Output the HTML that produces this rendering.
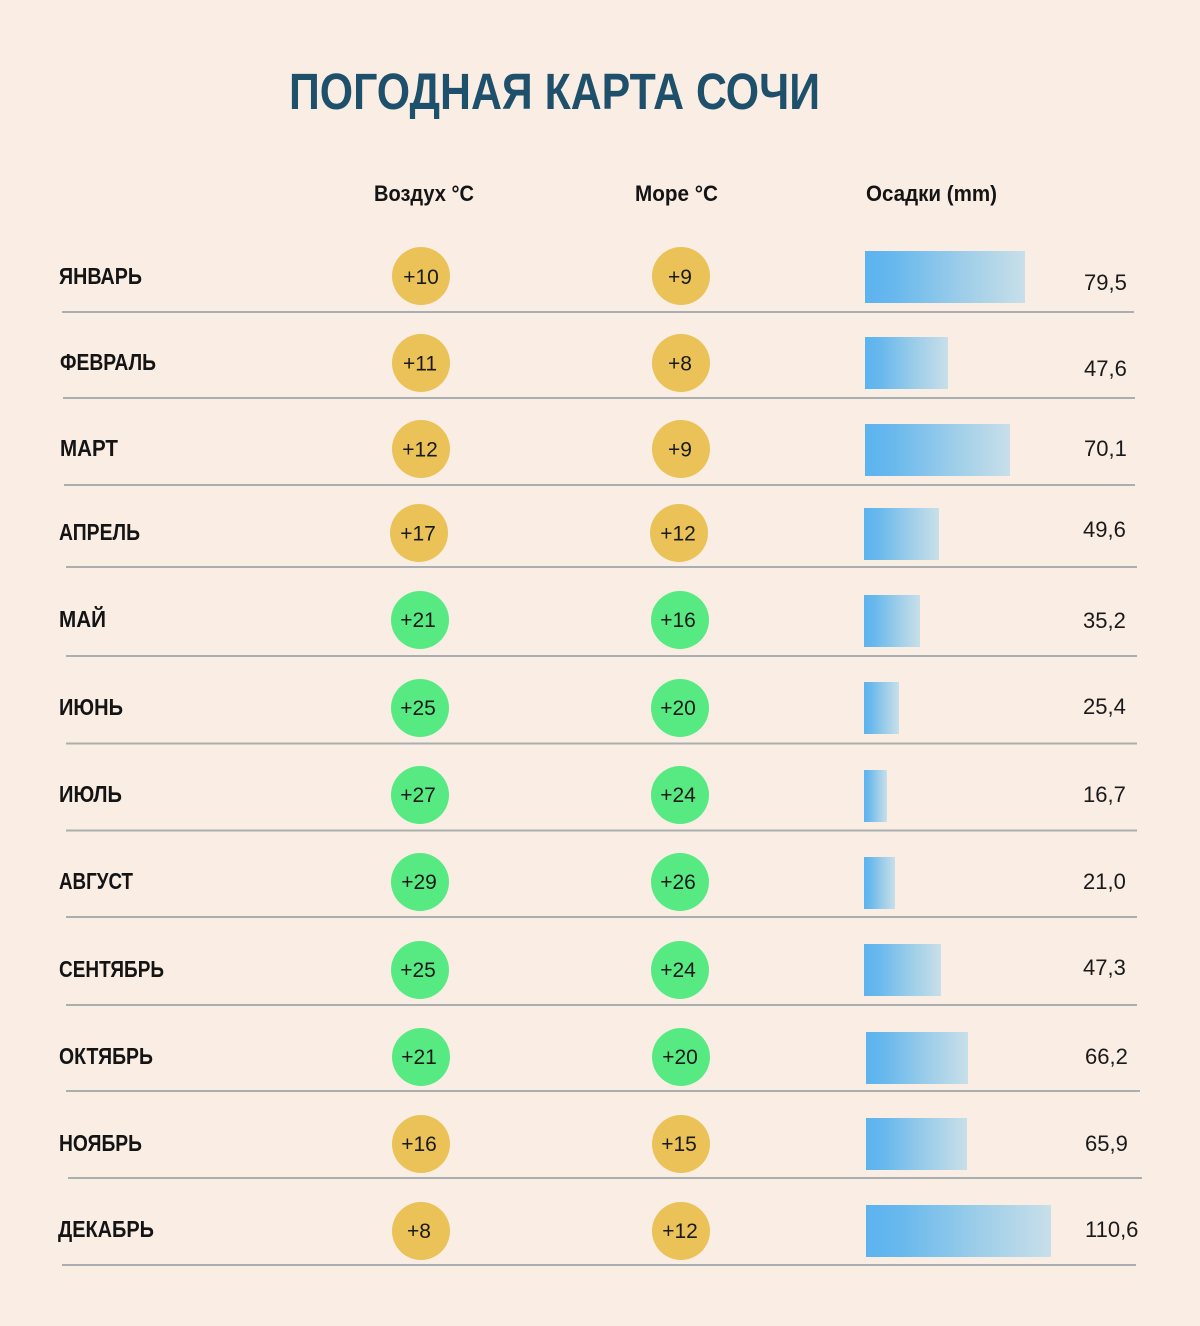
<!DOCTYPE html>
<html>
<head>
<meta charset="utf-8">
<style>
  html, body { margin:0; padding:0; background:#faede4; }
  svg { display:block; }
  .t { font-family:"Liberation Sans", "Noto Sans CJK SC", sans-serif; }
  .title { font-weight:bold; font-size:51px; fill:#1e4f6b; }
  .hdr { font-weight:bold; font-size:22px; fill:#141414; }
  .mon { font-weight:bold; font-size:23px; fill:#141414; }
  .cv { font-size:21px; fill:#1a1a1a; }
  .val { font-size:22px; fill:#1a1a1a; }
</style>
</head>
<body>
<svg width="1200" height="1326" viewBox="0 0 1200 1326" xmlns="http://www.w3.org/2000/svg">
  <defs>
    <linearGradient id="bg" x1="0" y1="0" x2="1" y2="0">
      <stop offset="0" stop-color="#5cb3ef"/>
      <stop offset="0.18" stop-color="#67b8ed"/>
      <stop offset="0.6" stop-color="#9ccde9"/>
      <stop offset="1" stop-color="#c8dfe9"/>
    </linearGradient>
  </defs>
  <rect x="0" y="0" width="1200" height="1326" fill="#faede4"/>

  <text class="t title" x="289" y="109" textLength="531" lengthAdjust="spacingAndGlyphs">ПОГОДНАЯ КАРТА СОЧИ</text>

  <text class="t hdr" x="374" y="201" textLength="100" lengthAdjust="spacingAndGlyphs">Воздух °C</text>
  <text class="t hdr" x="635" y="201" textLength="83" lengthAdjust="spacingAndGlyphs">Море °C</text>
  <text class="t hdr" x="866" y="201" textLength="131" lengthAdjust="spacingAndGlyphs">Осадки (mm)</text>

  <g stroke="#a9aeb1" stroke-width="2">
    <line x1="62" y1="312" x2="1134" y2="312"/>
    <line x1="63" y1="398" x2="1135" y2="398"/>
    <line x1="64" y1="485" x2="1135" y2="485"/>
    <line x1="66" y1="567" x2="1137" y2="567"/>
    <line x1="66" y1="656" x2="1137" y2="656"/>
    <line x1="66" y1="743.5" x2="1137" y2="743.5"/>
    <line x1="66" y1="830.5" x2="1137" y2="830.5"/>
    <line x1="66" y1="917" x2="1137" y2="917"/>
    <line x1="66" y1="1005" x2="1137" y2="1005"/>
    <line x1="66" y1="1091" x2="1140" y2="1091"/>
    <line x1="68" y1="1178" x2="1142" y2="1178"/>
    <line x1="62" y1="1265" x2="1136" y2="1265"/>
  </g>

  <!-- Month labels -->
  <text class="t mon" x="59" y="284" textLength="83" lengthAdjust="spacingAndGlyphs">ЯНВАРЬ</text>
  <text class="t mon" x="60" y="370" textLength="96" lengthAdjust="spacingAndGlyphs">ФЕВРАЛЬ</text>
  <text class="t mon" x="60" y="456" textLength="58" lengthAdjust="spacingAndGlyphs">МАРТ</text>
  <text class="t mon" x="59" y="540" textLength="81" lengthAdjust="spacingAndGlyphs">АПРЕЛЬ</text>
  <text class="t mon" x="59" y="627" textLength="47" lengthAdjust="spacingAndGlyphs">МАЙ</text>
  <text class="t mon" x="59" y="715" textLength="64" lengthAdjust="spacingAndGlyphs">ИЮНЬ</text>
  <text class="t mon" x="59" y="802" textLength="63" lengthAdjust="spacingAndGlyphs">ИЮЛЬ</text>
  <text class="t mon" x="59" y="889" textLength="74" lengthAdjust="spacingAndGlyphs">АВГУСТ</text>
  <text class="t mon" x="59" y="977" textLength="105" lengthAdjust="spacingAndGlyphs">СЕНТЯБРЬ</text>
  <text class="t mon" x="59" y="1064" textLength="94" lengthAdjust="spacingAndGlyphs">ОКТЯБРЬ</text>
  <text class="t mon" x="59" y="1151" textLength="83" lengthAdjust="spacingAndGlyphs">НОЯБРЬ</text>
  <text class="t mon" x="58" y="1237" textLength="96" lengthAdjust="spacingAndGlyphs">ДЕКАБРЬ</text>

  <!-- Circles -->
  <g>
    <circle cx="421" cy="276" r="29" fill="#eac257"/><circle cx="681" cy="276" r="29" fill="#eac257"/>
    <circle cx="421" cy="363" r="29" fill="#eac257"/><circle cx="681" cy="363" r="29" fill="#eac257"/>
    <circle cx="421" cy="449" r="29" fill="#eac257"/><circle cx="681" cy="449" r="29" fill="#eac257"/>
    <circle cx="419" cy="533" r="29" fill="#eac257"/><circle cx="679" cy="533" r="29" fill="#eac257"/>
    <circle cx="420" cy="620" r="29" fill="#57ea83"/><circle cx="680" cy="620" r="29" fill="#57ea83"/>
    <circle cx="420" cy="708" r="29" fill="#57ea83"/><circle cx="680" cy="708" r="29" fill="#57ea83"/>
    <circle cx="420" cy="795" r="29" fill="#57ea83"/><circle cx="680" cy="795" r="29" fill="#57ea83"/>
    <circle cx="420" cy="882" r="29" fill="#57ea83"/><circle cx="680" cy="882" r="29" fill="#57ea83"/>
    <circle cx="420" cy="970" r="29" fill="#57ea83"/><circle cx="680" cy="970" r="29" fill="#57ea83"/>
    <circle cx="421" cy="1057" r="29" fill="#57ea83"/><circle cx="681" cy="1057" r="29" fill="#57ea83"/>
    <circle cx="421" cy="1144" r="29" fill="#eac257"/><circle cx="681" cy="1144" r="29" fill="#eac257"/>
    <circle cx="421" cy="1231" r="29" fill="#eac257"/><circle cx="681" cy="1231" r="29" fill="#eac257"/>
  </g>

  <g class="t cv" text-anchor="middle">
    <text x="421" y="284">+10</text><text x="680" y="284">+9</text>
    <text x="420" y="370.5">+11</text><text x="680" y="370.5">+8</text>
    <text x="420" y="456.5">+12</text><text x="680" y="456.5">+9</text>
    <text x="418" y="540.5">+17</text><text x="678" y="540.5">+12</text>
    <text x="418" y="627">+21</text><text x="678" y="627">+16</text>
    <text x="418" y="715">+25</text><text x="678" y="715">+20</text>
    <text x="418" y="802">+27</text><text x="678" y="802">+24</text>
    <text x="419" y="889">+29</text><text x="678" y="889">+26</text>
    <text x="418" y="977">+25</text><text x="678" y="977">+24</text>
    <text x="419" y="1064">+21</text><text x="680" y="1064">+20</text>
    <text x="419" y="1151">+16</text><text x="679" y="1151">+15</text>
    <text x="419" y="1238">+8</text><text x="680" y="1238">+12</text>
  </g>

  <!-- Bars -->
  <g fill="url(#bg)">
    <rect x="865" y="251" width="160" height="52"/>
    <rect x="865" y="337" width="83" height="52"/>
    <rect x="865" y="424" width="145" height="52"/>
    <rect x="864" y="508" width="75" height="52"/>
    <rect x="864" y="595" width="56" height="52"/>
    <rect x="864" y="682" width="35" height="52"/>
    <rect x="864" y="770" width="23" height="52"/>
    <rect x="864" y="857" width="31" height="52"/>
    <rect x="864" y="944" width="77" height="52"/>
    <rect x="866" y="1032" width="102" height="52"/>
    <rect x="866" y="1118" width="101" height="52"/>
    <rect x="866" y="1205" width="185" height="52"/>
  </g>

  <g class="t val">
    <text x="1084" y="290">79,5</text>
    <text x="1084" y="376">47,6</text>
    <text x="1084" y="456">70,1</text>
    <text x="1083" y="537">49,6</text>
    <text x="1083" y="628">35,2</text>
    <text x="1083" y="714">25,4</text>
    <text x="1083" y="802">16,7</text>
    <text x="1083" y="889">21,0</text>
    <text x="1083" y="975">47,3</text>
    <text x="1085" y="1064">66,2</text>
    <text x="1085" y="1151">65,9</text>
    <text x="1085" y="1237">110,6</text>
  </g>
</svg>
</body>
</html>
